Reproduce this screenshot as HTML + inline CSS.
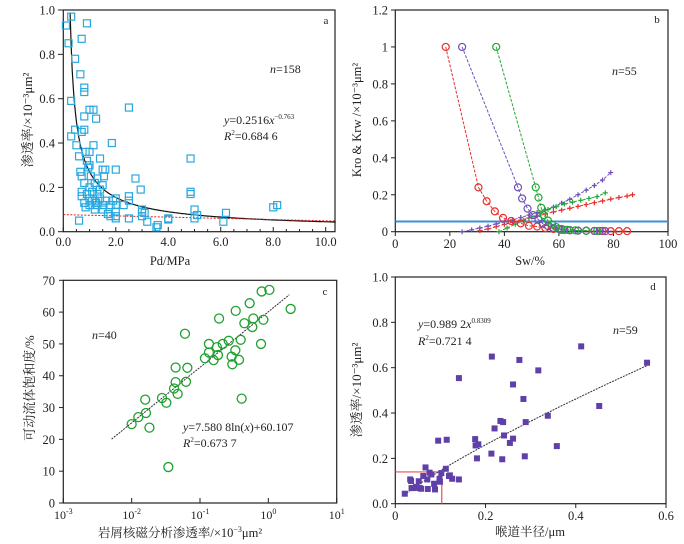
<!DOCTYPE html>
<html><head><meta charset="utf-8"><style>
html,body{margin:0;padding:0;background:#fff;}
svg{display:block;font-family:"Liberation Serif","Noto Serif CJK SC",serif;}
</style></head><body>
<svg id="fig" width="684" height="544" viewBox="0 0 684 544" xmlns="http://www.w3.org/2000/svg"></svg>
<script>
// ---- Panel a data ----
const aPd = [0.1,0.3,0.2,0.9,0.7,0.45,0.65,0.3,0.8,0.8,1.0,1.15,1.25,0.8,2.5,0.45,0.8,0.7,0.3,0.5,1.15,1.85,0.6,0.85,1.0,0.9,1.4,4.85,0.65,0.7,1.0,1.5,1.6,2.0,2.75,1.3,0.8,1.0,1.2,1.5,0.7,0.9,1.1,1.3,2.95,4.85,4.85,0.7,1.0,1.2,1.4,1.6,2.0,2.5,0.8,1.0,1.3,1.5,1.8,2.0,2.3,2.5,0.85,1.2,1.5,1.7,2.0,2.0,1.8,2.0,2.5,3.0,3.0,3.1,3.0,3.2,3.55,3.6,4.0,4.0,5.0,5.0,5.1,6.1,6.2,8.0,8.15,0.6,1.1,1.4,1.55,1.25,1.9,1.05,0.95];
const aPerm = [0.93,0.97,0.85,0.94,0.87,0.78,0.71,0.59,0.65,0.63,0.55,0.55,0.51,0.52,0.56,0.46,0.46,0.45,0.43,0.39,0.39,0.40,0.34,0.36,0.36,0.32,0.33,0.33,0.27,0.25,0.3,0.28,0.28,0.28,0.24,0.24,0.22,0.2,0.22,0.21,0.18,0.17,0.18,0.17,0.19,0.18,0.17,0.16,0.15,0.14,0.15,0.14,0.15,0.16,0.13,0.12,0.12,0.12,0.12,0.12,0.12,0.14,0.11,0.1,0.1,0.08,0.09,0.07,0.07,0.06,0.06,0.09,0.1,0.085,0.07,0.045,0.02,0.03,0.06,0.055,0.1,0.06,0.075,0.045,0.085,0.11,0.12,0.05,0.14,0.19,0.25,0.13,0.14,0.25,0.29];
const aXTicks = ["0.0","2.0","4.0","6.0","8.0","10.0"];
const aYTicks = ["0.0","0.2","0.4","0.6","0.8","1.0"];
// ---- Panel b data ----
const bRoRedSw = [18.5,30.5,33.5,36.5,39.5,42.5,46,49,52,55,58,61,64,67,70,73,76,79,82,85];
const bRoRed = [1.0,0.24,0.165,0.11,0.075,0.058,0.045,0.032,0.028,0.02,0.015,0.01,0.008,0.006,0.005,0.004,0.004,0.003,0.003,0.003];
const bRoPurSw = [24.5,45,46.5,48.5,50.5,52.5,54,56,58,60,62,64,67,70,73,75,77];
const bRoPur = [1.0,0.24,0.18,0.125,0.09,0.065,0.045,0.03,0.02,0.015,0.01,0.008,0.006,0.005,0.004,0.004,0.003];
const bRoGrnSw = [37,51.5,52.5,53.5,54.5,56,57.5,59,61,63,66,70,74];
const bRoGrn = [1.0,0.24,0.185,0.13,0.09,0.06,0.04,0.025,0.015,0.01,0.007,0.005,0.004];
const bRwRedSw = [31,34,37,40,43,46,49,52,55,58,61,64,67,70,73,76,79,82,85,87];
const bRwRed = [0.005,0.015,0.027,0.04,0.052,0.063,0.074,0.085,0.096,0.107,0.117,0.127,0.137,0.147,0.157,0.166,0.176,0.185,0.193,0.2];
const bRwPurSw = [24.5,28,31,34,37,40,43,46,49,52,55,58,61,64,67,70,73,76,79];
const bRwPur = [0,0.01,0.02,0.03,0.042,0.053,0.064,0.077,0.09,0.104,0.118,0.133,0.155,0.175,0.2,0.225,0.25,0.28,0.32];
const bRwGrnSw = [38,41,44,47,50,53,56,59,62,65,68,71,74,77];
const bRwGrn = [0,0.02,0.04,0.06,0.08,0.1,0.12,0.135,0.15,0.16,0.17,0.18,0.19,0.21];
const bCutoff = 0.055;
const bXTicks = ["0","20","40","60","80","100"];
const bYTicks = ["0","0.2","0.4","0.6","0.8","1","1.2"];
// ---- Panel c data ----
const cPerm = [0.01,0.0125,0.0162,0.0158,0.0182,0.0278,0.0322,0.0417,0.044,0.044,0.0471,0.0344,0.0603,0.0624,0.0653,0.118,0.135,0.135,0.158,0.177,0.183,0.19,0.215,0.263,0.29,0.297,0.329,0.333,0.372,0.394,0.407,0.446,0.533,0.583,0.603,0.781,0.798,0.845,1.035,2.12];
const cSat = [24.8,27,28.3,32.5,23.7,33,31.5,36,38,42.6,34.3,11.3,53.2,38.1,42.5,45.5,47.3,50,44.9,49,46.5,58,50,51,46,43.6,48,60.4,45,51.3,32.8,56.5,62.8,55.3,58,50,66.5,57.6,67,61];
const cXExp = ["-3","-2","-1","0","1"];
const cYTicks = ["0","10","20","30","40","50","60","70"];
// ---- Panel d data ----
const dRadius = [0.021,0.033,0.035,0.036,0.041,0.046,0.052,0.054,0.057,0.062,0.067,0.072,0.071,0.076,0.080,0.086,0.088,0.095,0.098,0.099,0.102,0.112,0.114,0.119,0.121,0.126,0.141,0.141,0.177,0.178,0.181,0.184,0.214,0.213,0.220,0.233,0.237,0.239,0.241,0.254,0.261,0.261,0.275,0.284,0.287,0.289,0.317,0.338,0.358,0.412,0.452,0.558];
const dPerm = [0.044,0.107,0.100,0.069,0.069,0.074,0.099,0.069,0.066,0.122,0.160,0.065,0.107,0.137,0.129,0.088,0.063,0.278,0.110,0.097,0.135,0.154,0.282,0.122,0.125,0.110,0.554,0.107,0.285,0.257,0.200,0.262,0.649,0.221,0.332,0.365,0.196,0.360,0.301,0.268,0.526,0.287,0.634,0.462,0.209,0.360,0.588,0.388,0.254,0.694,0.431,0.622];
const dXTicks = ["0","0.2","0.4","0.6"];
const dYTicks = ["0.0","0.2","0.4","0.6","0.8","1.0"];

const NS="http://www.w3.org/2000/svg";
const svg=document.getElementById('fig');
function mk(tag,attrs,parent){const e=document.createElementNS(NS,tag);for(const k in attrs)e.setAttribute(k,attrs[k]);(parent||svg).appendChild(e);return e;}
function lin(d0,d1,r0,r1){return v=>r0+(v-d0)/(d1-d0)*(r1-r0);}
function txt(x,y,s,size,anchor,parent,name){const t=mk('text',{x:x,y:y,'font-size':size,'text-anchor':anchor||'middle',fill:'#222'},parent);t.textContent=s;


return t;}
function group(name){const g=mk('g',{});


return g;}
function frame(g,x0,y0,x1,y1){const r=mk('rect',{x:x0,y:y0,width:x1-x0,height:y1-y0,fill:'none',stroke:'#222','stroke-width':1.2},g);

}
function path(pts){return pts.map((p,i)=>(i?'L':'M')+p[0].toFixed(1)+','+p[1].toFixed(1)).join('');}

// ===== Panel a =====
(function(){
const g=group('panel-a');
const X=lin(0,10,63.3,325.7), Y=lin(0,1,231.7,10);
frame(g,63.3,10,335,231.7);
const ax=group('x-axis-a');
aXTicks.forEach((t,i)=>{const v=i*2;mk('line',{x1:X(v),x2:X(v),y1:231.7,y2:227,stroke:'#222'},ax);txt(X(v),246,t,12.5,'middle',ax,'x-tick-label');});
for(let v=0.5;v<10.4;v+=0.5){if(Math.abs(v/2-Math.round(v/2))>0.01)mk('line',{x1:X(v),x2:X(v),y1:231.7,y2:229,stroke:'#222'},ax);}
const ay=group('y-axis-a');
aYTicks.forEach((t,i)=>{const v=i*0.2;mk('line',{x1:58,x2:63.3,y1:Y(v),y2:Y(v),stroke:'#222'},ay);txt(55,Y(v)+4.5,t,12.5,'end',ay,'y-tick-label');});
txt(170,265,'Pd/MPa',12.5,'middle',g,'x-axis-title');
const yt=txt(0,0,'渗透率/×10⁻³μm²',13,'middle',g,'y-axis-title');yt.setAttribute('transform','translate(32,120) rotate(-90)');
const pts=group('scatter-a');
aPd.forEach((x,i)=>{const r=mk('rect',{x:X(x)-3.5,y:Y(aPerm[i])-3.5,width:7,height:7,fill:'none',stroke:'#29a8e0','stroke-width':1.2},pts);

});
const tp=[];for(let x=0.26;x<=10.4;x+=0.04){tp.push([X(x),Y(0.25*Math.pow(x-0.1,-0.75))]);}
const tl=mk('path',{d:path(tp),fill:'none',stroke:'#111','stroke-width':1.2},g);


const rl=mk('line',{x1:X(0),y1:Y(0.077),x2:335,y2:Y(0.048),stroke:'#e02020','stroke-width':1,'stroke-dasharray':'2,1.5'},g);


txt(326,24,'a',11,'middle',g,'panel-letter');
const n=txt(270,73,'',12,'start',g,'sample-count');n.innerHTML='<tspan font-style="italic">n</tspan>=158';
const e1=txt(224,124,'',12,'start',g,'equation');e1.innerHTML='<tspan font-style="italic">y</tspan>=0.2516<tspan font-style="italic">x</tspan><tspan font-size="7" dy="-5">−0.763</tspan>';
const e2=txt(224,140,'',12,'start',g,'r-squared');e2.innerHTML='<tspan font-style="italic">R</tspan><tspan font-size="7" dy="-5">2</tspan><tspan dy="5">=0.684 6</tspan>';
})();

// ===== Panel b =====
(function(){
const g=group('panel-b');
const X=lin(0,100,395.3,668), Y=lin(0,1.2,231.7,10);
frame(g,395.3,10,668,231.7);
const ax=group('x-axis-b');
bXTicks.forEach((t,i)=>{const v=i*20;mk('line',{x1:X(v),x2:X(v),y1:231.7,y2:236,stroke:'#222'},ax);txt(X(v),248,t,12.5,'middle',ax,'x-tick-label');});
const ay=group('y-axis-b');
bYTicks.forEach((t,i)=>{const v=i*0.2;mk('line',{x1:391,x2:395.3,y1:Y(v),y2:Y(v),stroke:'#222'},ay);txt(388,Y(v)+4.5,t,12.5,'end',ay,'y-tick-label');});
txt(530,265,'Sw/%',12.5,'middle',g,'x-axis-title');
const yt=txt(0,0,'Kro & Krw /×10⁻³μm²',12.5,'middle',g,'y-axis-title');yt.setAttribute('transform','translate(361,120) rotate(-90)');
const hl=mk('line',{x1:395.3,x2:668,y1:Y(bCutoff),y2:Y(bCutoff),stroke:'#3b8fd8','stroke-width':2},g);


function series(xs,ys,col,marker,name){const sg=group(name);
const l=mk('path',{d:path(xs.map((x,i)=>[X(x),Y(ys[i])])),fill:'none',stroke:col,'stroke-width':1,'stroke-dasharray':'3,1.5'},sg);


xs.forEach((x,i)=>{let m;if(marker==='o'){m=mk('circle',{cx:X(x),cy:Y(ys[i]),r:3.5,fill:'none',stroke:col,'stroke-width':1.2},sg);}
else{m=mk('path',{d:`M${X(x)-2.5},${Y(ys[i])}h5M${X(x)},${Y(ys[i])-2.5}v5`,stroke:col,'stroke-width':1.2},sg);}

});}
series(bRwRedSw,bRwRed,'#e8302a','+','krw-red');
series(bRwPurSw,bRwPur,'#7050b8','+','krw-purple');
series(bRwGrnSw,bRwGrn,'#22a83a','+','krw-green');
series(bRoRedSw,bRoRed,'#e8302a','o','kro-red');
series(bRoPurSw,bRoPur,'#7050b8','o','kro-purple');
series(bRoGrnSw,bRoGrn,'#22a83a','o','kro-green');
txt(657,23,'b',11,'middle',g,'panel-letter');
const n=txt(612,75,'',12,'start',g,'sample-count');n.innerHTML='<tspan font-style="italic">n</tspan>=55';
})();

// ===== Panel c =====
(function(){
const g=group('panel-c');
const LX=lin(-3,1,63.3,336.7), X=v=>LX(Math.log10(v)), Y=lin(0,70,503,280.3);
frame(g,63.3,280.3,336.7,503);
const ax=group('x-axis-c');
cXExp.forEach((e,i)=>{const v=i-3;mk('line',{x1:LX(v),x2:LX(v),y1:503,y2:498,stroke:'#222'},ax);
const t=txt(LX(v),519,'',12,'middle',ax,'x-tick-label');t.innerHTML='10<tspan font-size="8" dy="-5">'+e+'</tspan>';});
const ay=group('y-axis-c');
cYTicks.forEach((t,i)=>{const v=i*10;mk('line',{x1:59,x2:63.3,y1:Y(v),y2:Y(v),stroke:'#222'},ay);txt(55,Y(v)+4.5,t,12.5,'end',ay,'y-tick-label');});
const xt=txt(180,537,'',12.5,'middle',g,'x-axis-title');xt.innerHTML='岩屑核磁分析渗透率/×10<tspan font-size="8" dy="-5">−3</tspan><tspan dy="5">μm²</tspan>';
const yt=txt(0,0,'可动流体饱和度/%',13,'middle',g,'y-axis-title');yt.setAttribute('transform','translate(34,388) rotate(-90)');
const tp=[];for(let lx=-2.293;lx<=0.356;lx+=0.05){tp.push([LX(lx),Y(7.5808*Math.log(Math.pow(10,lx))+60.107)]);}
const tl=mk('path',{d:path(tp),fill:'none',stroke:'#333','stroke-width':1,'stroke-dasharray':'2,1'},g);


const pts=group('scatter-c');
cPerm.forEach((x,i)=>{const c=mk('circle',{cx:X(x),cy:Y(cSat[i]),r:4.5,fill:'none',stroke:'#1fa030','stroke-width':1.3},pts);

});
txt(325,295,'c',11,'middle',g,'panel-letter');
const n=txt(92,339,'',12,'start',g,'sample-count');n.innerHTML='<tspan font-style="italic">n</tspan>=40';
const e1=txt(183,431,'',12,'start',g,'equation');e1.innerHTML='<tspan font-style="italic">y</tspan>=7.580 8ln(<tspan font-style="italic">x</tspan>)+60.107';
const e2=txt(183,447,'',12,'start',g,'r-squared');e2.innerHTML='<tspan font-style="italic">R</tspan><tspan font-size="7" dy="-5">2</tspan><tspan dy="5">=0.673 7</tspan>';
})();

// ===== Panel d =====
(function(){
const g=group('panel-d');
const X=lin(0,0.6,395.3,666), Y=lin(0,1,503.7,277);
frame(g,395.3,277,666,503.7);
const ax=group('x-axis-d');
dXTicks.forEach((t,i)=>{const v=i*0.2;mk('line',{x1:X(v),x2:X(v),y1:503.7,y2:508,stroke:'#222'},ax);txt(X(v),520,t,12.5,'middle',ax,'x-tick-label');});
const ay=group('y-axis-d');
dYTicks.forEach((t,i)=>{const v=i*0.2;mk('line',{x1:391,x2:395.3,y1:Y(v),y2:Y(v),stroke:'#222'},ay);txt(388,Y(v)+4.5,t,12.5,'end',ay,'y-tick-label');});
txt(530,536,'喉道半径/μm',12.5,'middle',g,'x-axis-title');
const yt=txt(0,0,'渗透率/×10⁻³μm²',13,'middle',g,'y-axis-title');yt.setAttribute('transform','translate(361,390) rotate(-90)');
const rl=mk('path',{d:`M${X(0)},${Y(0.14)}H${X(0.103)}V${Y(0)}`,fill:'none',stroke:'#e85050','stroke-width':1.2},g);


const tp=[];for(let x=0.02;x<=0.57;x+=0.01){tp.push([X(x),Y(0.9892*Math.pow(x,0.8309))]);}
const tl=mk('path',{d:path(tp),fill:'none',stroke:'#333','stroke-width':1,'stroke-dasharray':'2,1'},g);


const pts=group('scatter-d');
dRadius.forEach((x,i)=>{const r=mk('rect',{x:X(x)-3,y:Y(dPerm[i])-3,width:6,height:6,fill:'#6040a8'},pts);

});
txt(653,290,'d',11,'middle',g,'panel-letter');
const n=txt(613,334,'',12,'start',g,'sample-count');n.innerHTML='<tspan font-style="italic">n</tspan>=59';
const e1=txt(418,328,'',12,'start',g,'equation');e1.innerHTML='<tspan font-style="italic">y</tspan>=0.989 2<tspan font-style="italic">x</tspan><tspan font-size="7" dy="-5">0.8309</tspan>';
const e2=txt(418,345,'',12,'start',g,'r-squared');e2.innerHTML='<tspan font-style="italic">R</tspan><tspan font-size="7" dy="-5">2</tspan><tspan dy="5">=0.721 4</tspan>';
})();
</script>
</body></html>
